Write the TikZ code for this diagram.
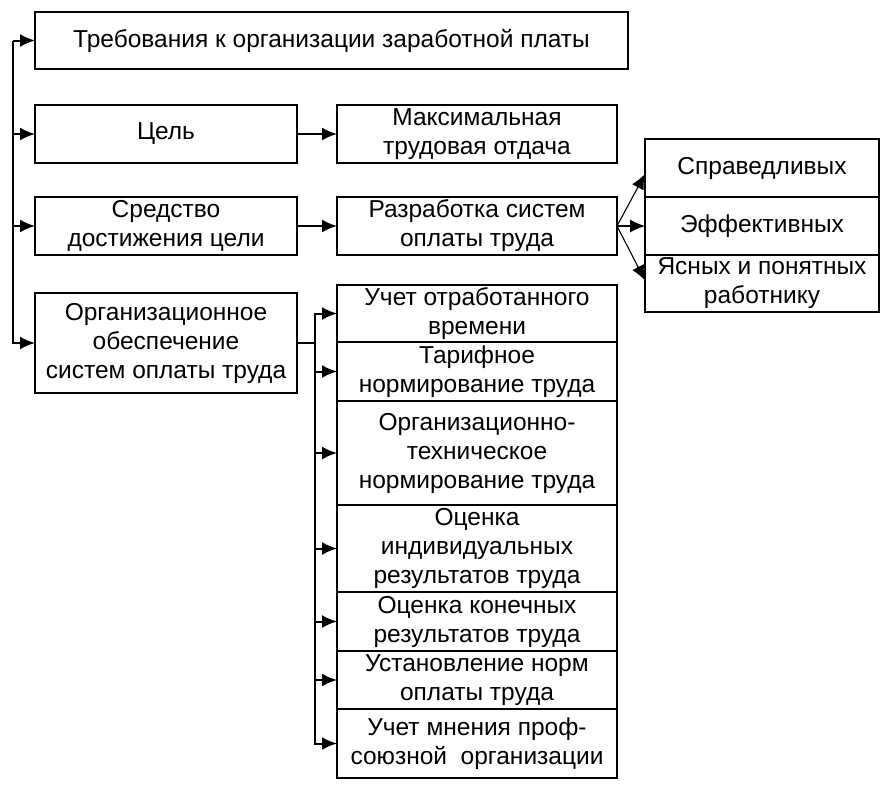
\documentclass[tikz,border=0pt]{standalone}
\usepackage{fontspec}
\setmainfont{Liberation Sans}
\usepackage{tikz}
\usetikzlibrary{arrows.meta,positioning}

\begin{document}
\begin{tikzpicture}[thick, node distance=40pt, auto, font=\fontsize{24.5}{29}\selectfont,
    >={Latex[length=15pt,width=13pt]}]

\tikzstyle{block} = [rectangle, draw, line width=2pt, align=center,
    inner xsep=2pt, inner ysep=0pt, outer sep=0pt, minimum width=262pt, minimum height=58pt]
\tikzstyle{wide} = [block, minimum width=280pt]
\tikzstyle{side} = [block, minimum width=234pt]
\tikzstyle{line} = [draw, line width=2pt, ->]
\tikzstyle{thin} = [draw, line width=1.1pt, ->]

\useasboundingbox (0,0) rectangle (886pt,-790pt);

    % Place nodes
    \node [block, minimum width=593pt, minimum height=57pt, anchor=north west] (req) at (35pt,-12pt) {Требования к организации заработной платы};
    \node [block, below=36pt of req.south west, anchor=north west] (goal) {Цель};
    \node [wide, right=of goal] (maxout) {Максимальная\\трудовая отдача};
    \node [block, below=34pt of goal] (means) {Средство\\достижения цели};
    \node [wide, right=of means] (develop) {Разработка систем\\оплаты труда};
    \node [side, right=28pt of develop] (effic) {Эффективных};
    \node [side, above=0pt of effic] (fair) {Справедливых};
    \node [side, below=0pt of effic, minimum height=57pt] (clear) {Ясных и понятных\\работнику};
    \node [block, below=38pt of means, minimum height=100pt] (orgsup) {Организационное\\обеспечение\\систем оплаты труда};
    \node [wide, below=30pt of develop, minimum height=57pt] (worktime) {Учет отработанного\\времени};
    \node [wide, below=0pt of worktime, minimum height=59pt] (tariff) {Тарифное\\нормирование труда};
    \node [wide, below=0pt of tariff, minimum height=104pt] (orgtech) {Организационно-\\техническое\\нормирование труда};
    \node [wide, below=0pt of orgtech, minimum height=87pt] (indiv) {Оценка\\индивидуальных\\результатов труда};
    \node [wide, below=0pt of indiv, minimum height=59pt] (final) {Оценка конечных\\результатов труда};
    \node [wide, below=0pt of final, minimum height=58pt] (norms) {Установление норм\\оплаты труда};
    \node [wide, below=0pt of norms, minimum height=69pt] (union) {Учет мнения проф-\\союзной\ \ организации};
    % Draw edges
    \coordinate [left=22pt of req.west] (spine);
    \coordinate [right=18pt of orgsup.east] (branch);
    \path [line] (spine) -- (req.west);
    \path [line] (spine) |- (goal.west);
    \path [line] (spine) |- (means.west);
    \path [line] (spine) |- (orgsup.west);
    \path [line] (goal) -- (maxout);
    \path [line] (means) -- (develop);
    \path [thin] (develop.east) -- ([yshift=-6pt]fair.west);
    \path [thin] (develop.east) -- (effic.west);
    \path [thin] (develop.east) -- ([yshift=3pt]clear.west);
    \draw [line width=2pt] (orgsup.east) -- (branch);
    \path [line] (branch) |- (worktime.west);
    \path [line] (branch) |- (tariff.west);
    \path [line] (branch) |- (orgtech.west);
    \path [line] (branch) |- (indiv.west);
    \path [line] (branch) |- (final.west);
    \path [line] (branch) |- (norms.west);
    \path [line] (branch) |- (union.west);
\end{tikzpicture}
\end{document}
